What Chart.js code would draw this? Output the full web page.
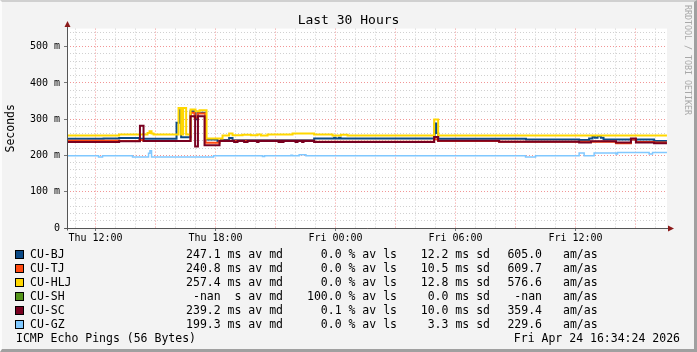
<!DOCTYPE html>
<html>
<head>
<meta charset="utf-8">
<script src="https://cdn.jsdelivr.net/npm/chart.js@4.4.1/dist/chart.umd.min.js"></script>
<style>
html, body { margin: 0; padding: 0; }
body { width: 697px; height: 352px; background: #f3f3f3; position: relative; overflow: hidden;
       font-family: 'DejaVu Sans Mono', monospace; }
#wrap { position: absolute; left: 0; top: 0; width: 697px; height: 352px; }
#frame { position: absolute; left: 0; top: 0; width: 697px; height: 352px; box-sizing: border-box;
         border-top: 2px solid #d0d0d0; border-left: 2px solid #fcfcfc;
         border-right: 3px solid #a0a0a0; border-bottom: 3px solid #a0a0a0; pointer-events: none; }
.row { position: absolute; left: 0; width: 697px; height: 14px; line-height: 14px; font-size: 11.5px;
       white-space: pre; color: #000; }
.row span { position: absolute; top: 0; }
.row .sw { left: 15px; top: 3px; width: 7px; height: 7px; border: 1px solid #000; }
#wm { position: absolute; left: 683px; top: 5px; writing-mode: vertical-rl; font-size: 8.3px;
      line-height: 10px; color: #a8a8a8; white-space: pre; }
</style>
</head>
<body>
<div id="wrap"><canvas id="myChart"></canvas></div>
<div id="legend"></div>
<div id="wm">RRDTOOL / TOBI OETIKER</div>
<div id="frame"></div>
<script>
// time in hours since Thu 00:00, values in ms
const startHour = 10.573;
const endHour = 40.573;

const xTickHours = [12, 18, 24, 30, 36];
const xTickLabels = ['Thu 12:00', 'Thu 18:00', 'Fri 00:00', 'Fri 06:00', 'Fri 12:00'];
const yTickValues = [0, 100, 200, 300, 400, 500];
const yTickLabels = ['0', '100 m', '200 m', '300 m', '400 m', '500 m'];

const bjT = [10.57, 12.4, 13.18, 14.2, 16.05, 16.2, 16.28, 16.75, 17.0, 17.12, 17.5, 18.1, 18.27, 18.68, 18.85, 22.93, 23.93, 24.0, 24.17, 24.25, 28.95, 29.05, 29.13, 33.52, 36.18, 36.68, 36.85, 36.97, 37.1, 37.27, 37.4, 39.93, 40.57];
const bjV = [246, 247, 248, 246, 290, 325, 250, 322, 300, 318, 244, 240, 243, 248, 242, 247, 249, 247, 249, 247, 288, 262, 246, 244, 243, 247, 252, 249, 253, 249, 244, 240, 240];

const tjT = [10.57, 13.18, 14.2, 14.4, 16.75, 16.95, 17.1, 17.5, 18.2, 22.93, 28.93, 29.13, 32.18, 38.02, 38.77, 39.02, 39.93, 40.57];
const tjV = [241, 240, 243, 240, 318, 305, 316, 235, 241, 238, 245, 240, 238, 234, 244, 237, 236, 236];

const hljT = [10.57, 13.18, 14.6, 14.7, 14.8, 14.9, 16.15, 16.28, 16.38, 16.53, 16.75, 17.0, 17.2, 17.55, 18.35, 18.68, 18.85, 19.35, 19.77, 20.1, 20.27, 20.6, 21.85, 22.93, 23.85, 24.27, 24.6, 28.93, 29.13, 40.57];
const hljV = [255, 258, 262, 267, 261, 258, 331, 258, 331, 258, 327, 322, 325, 247, 255, 261, 256, 257, 256, 258, 255, 258, 261, 258, 255, 257, 255, 299, 255, 255];

const scT = [10.57, 13.18, 14.22, 14.4, 16.75, 16.98, 17.12, 17.45, 18.2, 18.93, 19.1, 19.43, 19.6, 20.08, 20.15, 21.15, 21.22, 21.32, 21.4, 22.0, 22.1, 22.33, 22.4, 22.93, 28.93, 29.13, 32.18, 36.18, 36.77, 38.02, 38.77, 39.02, 39.93, 40.57];
const scV = [237, 239, 282, 240, 308, 225, 308, 228, 240, 237, 240, 237, 240, 237, 240, 237, 240, 237, 240, 237, 240, 237, 240, 237, 251, 241, 238, 236, 239, 236, 247, 236, 234, 234];

const gzT = [10.57, 12.15, 12.35, 13.85, 14.65, 14.72, 14.8, 17.9, 20.35, 20.45, 21.77, 21.85, 22.18, 22.52, 33.5, 34.0, 36.18, 36.43, 36.93, 38.02, 38.1, 39.68, 39.85, 40.57];
const gzV = [199, 196, 199, 196, 206, 213, 196, 199, 197, 199, 201, 199, 202, 199, 196, 199, 207, 199, 207, 204, 208, 204, 208, 208];

const names = ['CU-BJ', 'CU-TJ', 'CU-HLJ', 'CU-SH', 'CU-SC', 'CU-GZ'];
const colors = ['#0b4a86', '#ff4a10', '#ffd700', '#55951c', '#780020', '#80c8ff'];
const avgText = ['247.1 ms', '240.8 ms', '257.4 ms', '-nan  s', '239.2 ms', '199.3 ms'];
const lossText = ['0.0', '0.0', '0.0', '100.0', '0.1', '0.0'];
const sdText = ['12.2', '10.5', '12.8', '0.0', '10.0', '3.3'];
const amasText = ['605.0', '609.7', '576.6', '-nan', '359.4', '229.6'];
const footLeft = 'ICMP Echo Pings (56 Bytes)';
const footRight = 'Fri Apr 24 16:34:24 2026';

const series = [[bjT, bjV], [tjT, tjV], [hljT, hljV], [[], []], [scT, scV], [gzT, gzV]];

function buildLegend() {
    const box = document.getElementById('legend');
    names.forEach((name, i) => {
        const row = document.createElement('div');
        row.className = 'row';
        row.style.top = (247 + i * 14) + 'px';
        row.innerHTML =
            `<span class="sw" style="background:${colors[i]}"></span>` +
            `<span style="left:30px">${name}</span>` +
            `<span style="right:${697 - 283}px">${avgText[i]} av md</span>` +
            `<span style="right:${697 - 397}px">${lossText[i]} % av ls</span>` +
            `<span style="right:${697 - 490}px">${sdText[i]} ms sd</span>` +
            `<span style="right:${697 - 542}px">${amasText[i]}</span>` +
            `<span style="left:563px">am/as</span>`;
        box.appendChild(row);
    });
    const foot = document.createElement('div');
    foot.className = 'row';
    foot.style.top = (247 + 6 * 14) + 'px';
    foot.innerHTML = `<span style="left:16px">${footLeft}</span><span style="right:${697 - 680}px">${footRight}</span>`;
    box.appendChild(foot);
}

const plotBg = {
    id: 'plotBg',
    beforeDraw(chart) {
        const { ctx, chartArea: a } = chart;
        ctx.save();
        ctx.fillStyle = '#ffffff';
        ctx.fillRect(a.left, a.top, a.right - a.left, a.bottom - a.top);
        ctx.restore();
    },
    afterDraw(chart) {
        const { ctx, chartArea: a } = chart;
        const x0 = Math.round(a.left) + 0.5;
        const y0 = Math.round(a.bottom) + 0.5;
        ctx.save();
        ctx.strokeStyle = '#555';
        ctx.lineWidth = 1;
        ctx.beginPath();
        ctx.moveTo(x0, y0 + 2);
        ctx.lineTo(x0, 25);
        ctx.moveTo(x0 - 3, y0);
        ctx.lineTo(a.right + 3, y0);
        ctx.stroke();
        ctx.fillStyle = '#8b1a1a';
        ctx.beginPath();
        ctx.moveTo(x0 - 3, 27);
        ctx.lineTo(x0 + 3, 27);
        ctx.lineTo(x0, 21);
        ctx.closePath();
        ctx.fill();
        ctx.beginPath();
        ctx.moveTo(a.right + 1, y0 - 3);
        ctx.lineTo(a.right + 1, y0 + 3);
        ctx.lineTo(a.right + 7, y0);
        ctx.closePath();
        ctx.fill();
        ctx.restore();
    }
};

const mono = "'DejaVu Sans Mono', monospace";
const redGrid = 'rgb(242,150,150)';
const grayGrid = 'rgb(208,208,208)';

function initChart() {
    const ctx = document.getElementById('myChart').getContext('2d');
    const datasets = names.map((name, i) => ({
        label: name,
        data: series[i][0].map((t, k) => ({ x: t, y: series[i][1][k] })),
        borderColor: colors[i],
        backgroundColor: colors[i],
        borderWidth: i === 5 ? 1.5 : 2,
        pointRadius: 0,
        fill: false,
        stepped: true,
        order: 10 - i
    }));
    new Chart(ctx, {
        type: 'line',
        data: { datasets },
        plugins: [plotBg],
        options: {
            responsive: true,
            maintainAspectRatio: false,
            animation: false,
            layout: { padding: 0 },
            plugins: {
                legend: { display: false },
                tooltip: { enabled: false },
                title: {
                    display: true,
                    text: 'Last 30 Hours',
                    color: '#000',
                    font: { family: mono, size: 13, weight: 'normal', lineHeight: 1.2 },
                    padding: { top: 13, bottom: 0 }
                }
            },
            scales: {
                x: {
                    type: 'linear',
                    min: startHour,
                    max: endHour,
                    afterBuildTicks: s => { s.ticks = Array.from({ length: 30 }, (_, k) => ({ value: 11 + k })); },
                    afterFit: s => { s.height = 124; },
                    ticks: {
                        autoSkip: false, maxRotation: 0, minRotation: 0, padding: 1,
                        color: '#000', font: { family: mono, size: 10 },
                        callback: v => { const k = xTickHours.indexOf(v); return k >= 0 ? xTickLabels[k] : ''; }
                    },
                    grid: {
                        color: c => (c.tick && c.tick.value % 3 === 0) ? redGrid : grayGrid,
                        lineWidth: 1,
                        tickLength: 3,
                        tickColor: c => (c.tick && c.tick.value % 6 === 0) ? '#777' : 'rgba(0,0,0,0)',
                        tickBorderDash: []
                    },
                    border: { display: false, dash: [1, 2] }
                },
                y: {
                    type: 'linear',
                    min: 0,
                    max: 550,
                    afterBuildTicks: s => { s.ticks = Array.from({ length: 28 }, (_, k) => ({ value: k * 20 })); },
                    afterFit: s => { s.width = 67; },
                    title: {
                        display: true, text: 'Seconds', color: '#000',
                        font: { family: mono, size: 11.5, lineHeight: 1.2 },
                        padding: { top: 4, bottom: 0 }
                    },
                    ticks: {
                        autoSkip: false, padding: 4, color: '#000', font: { family: mono, size: 10 },
                        callback: v => { const k = yTickValues.indexOf(v); return k >= 0 ? yTickLabels[k] : ''; }
                    },
                    grid: {
                        color: c => (c.tick && c.tick.value % 100 === 0) ? redGrid : grayGrid,
                        lineWidth: 1,
                        tickLength: 3,
                        tickColor: c => (c.tick && c.tick.value % 100 === 0) ? '#777' : 'rgba(0,0,0,0)',
                        tickBorderDash: []
                    },
                    border: { display: false, dash: [1, 2] }
                },
                yRight: {
                    type: 'linear',
                    position: 'right',
                    display: true,
                    afterFit: s => { s.width = 30; },
                    ticks: { display: false },
                    grid: { display: false, drawOnChartArea: false },
                    border: { display: false }
                }
            }
        }
    });
}

buildLegend();
initChart();
</script>
</body>
</html>
